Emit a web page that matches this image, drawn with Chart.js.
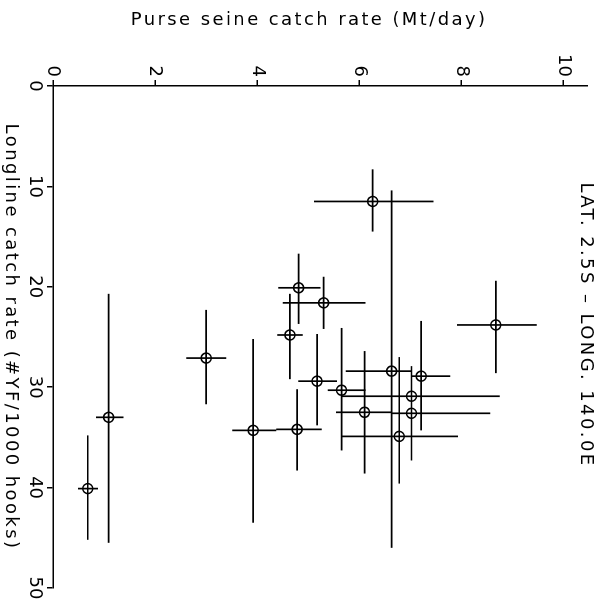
<!DOCTYPE html>
<html>
<head>
<meta charset="utf-8">
<script src="https://cdn.jsdelivr.net/npm/chart.js@4.4.1/dist/chart.umd.min.js"></script>
<style>
  html, body { margin: 0; padding: 0; background: #fff; overflow: hidden; }
  /* chart is drawn upright, then turned a quarter turn clockwise like the scanned figure */
  #wrap { position: absolute; left: 0; top: 0; width: 609px; height: 601px;
          transform-origin: 0 0; transform: translateX(601px) rotate(90deg); }
</style>
</head>
<body>
<div id="wrap"><canvas id="plot" width="609" height="601"></canvas></div>
<script>
// longline catch rate (#YF/1000 hooks) with its range
const llRate = [11.5, 23.8, 20.1, 21.6, 24.8, 27.1, 29.4, 30.3, 32.5, 34.2, 34.3, 34.9, 28.9, 30.9, 32.6, 28.4, 33.0, 40.1];
const llLow  = [ 8.3, 19.4, 16.7, 19.0, 20.7, 22.3, 24.7, 24.1, 26.4, 30.2, 25.2, 27.0, 23.4, 27.9, 28.6, 10.4, 20.7, 34.8];
const llHigh = [14.5, 28.6, 23.7, 24.2, 29.2, 31.7, 33.8, 36.3, 38.6, 38.3, 43.5, 39.6, 34.3, 36.3, 37.3, 46.0, 45.5, 45.2];
// purse seine catch rate (Mt/day) with its range
const psRate = [6.26, 8.67, 4.81, 5.30, 4.64, 3.00, 5.17, 5.65, 6.10, 4.78, 3.92, 6.78, 7.21, 7.02, 7.02, 6.63, 1.09, 0.68];
const psLow  = [5.11, 7.91, 4.41, 4.50, 4.39, 2.61, 4.80, 5.38, 5.54, 4.37, 3.51, 5.65, 7.02, 5.65, 6.63, 5.73, 0.84, 0.49];
const psHigh = [7.45, 9.47, 5.24, 6.12, 4.89, 3.39, 5.56, 6.12, 6.63, 5.26, 4.37, 7.93, 7.78, 8.75, 8.56, 7.02, 1.38, 0.88];

const llTicks = [0, 10, 20, 30, 40, 50];
const psTicks = [0, 2, 4, 6, 8, 10];

const FONT = 'DejaVu Sans';
const SPACING = '2.4px';

const points = llRate.map((v, i) => ({ x: v, y: psRate[i] }));
const llBars = [];
const psBars = [];
llRate.forEach((v, i) => {
  llBars.push({ x: llLow[i], y: psRate[i] }, { x: llHigh[i], y: psRate[i] }, { x: NaN, y: NaN });
  psBars.push({ x: v, y: psLow[i] }, { x: v, y: psHigh[i] }, { x: NaN, y: NaN });
});

const barStyle = {
  showLine: true, borderColor: '#000', borderWidth: 1.7,
  pointRadius: 0, spanGaps: false, fill: false
};

// the old plotter lettering is wide, so titles get extra letter spacing
const spacedTitles = {
  id: 'spacedTitles',
  beforeDraw(chart) {
    const wrap = (obj, key, dx, dy) => {
      if (!obj || obj['_w_' + key]) return;
      const orig = obj[key].bind(obj);
      obj[key] = function (...args) {
        const c = chart.ctx;
        c.save();
        c.letterSpacing = SPACING;
        c.translate(dx, dy);
        orig(...args);
        c.restore();
      };
      obj['_w_' + key] = true;
    };
    wrap(chart.scales.x, 'drawTitle', 0, 0);
    wrap(chart.scales.y, 'drawTitle', 0, 11);
    wrap(chart.titleBlock, 'draw', -12, 0);
  }
};

const ctx = document.getElementById('plot').getContext('2d');
new Chart(ctx, {
  type: 'scatter',
  data: {
    datasets: [
      Object.assign({ label: 'longline range', data: llBars }, barStyle),
      Object.assign({ label: 'purse seine range', data: psBars }, barStyle),
      {
        label: 'points', data: points, showLine: false,
        pointStyle: 'circle', pointRadius: 5, pointBorderWidth: 1.6,
        pointBorderColor: '#000', pointBackgroundColor: 'rgba(0,0,0,0)'
      }
    ]
  },
  plugins: [spacedTitles],
  options: {
    responsive: false,
    animation: false,
    layout: { padding: { left: 10, right: 21, top: 0, bottom: 0 } },
    plugins: {
      legend: { display: false },
      tooltip: { enabled: false },
      title: {
        display: true, fullSize: false,
        text: 'LAT. 2.5S \u2013 LONG. 140.0E',
        color: '#000',
        font: { family: FONT, size: 18, weight: 'normal' },
        padding: { top: 2, bottom: -12 }
      }
    },
    scales: {
      x: {
        type: 'linear', min: 0, max: 50,
        afterBuildTicks: s => { s.ticks = llTicks.map(v => ({ value: v })); },
        afterFit: s => { s.height = 53; },
        ticks: { color: '#000', font: { family: FONT, size: 18 }, maxRotation: 0, padding: 2 },
        grid: { drawOnChartArea: false, tickLength: 6, color: '#000', lineWidth: 1.5 },
        border: { color: '#000', width: 1.5 },
        title: {
          display: true, text: 'Longline catch rate (#YF/1000 hooks)', color: '#000',
          font: { family: FONT, size: 18 }, padding: { top: 0, bottom: 0 }
        }
      },
      y: {
        type: 'linear', min: 0, max: 10.46,
        afterBuildTicks: s => { s.ticks = psTicks.map(v => ({ value: v })); },
        afterFit: s => { s.width = 76; },
        ticks: { color: '#000', font: { family: FONT, size: 18 }, padding: 3 },
        grid: { drawOnChartArea: false, tickLength: 6, color: '#000', lineWidth: 1.5 },
        border: { color: '#000', width: 1.5 },
        title: {
          display: true, text: 'Purse seine catch rate (Mt/day)', color: '#000',
          font: { family: FONT, size: 18 }, padding: { top: 0, bottom: 0 }
        }
      }
    }
  }
});
</script>
</body>
</html>
